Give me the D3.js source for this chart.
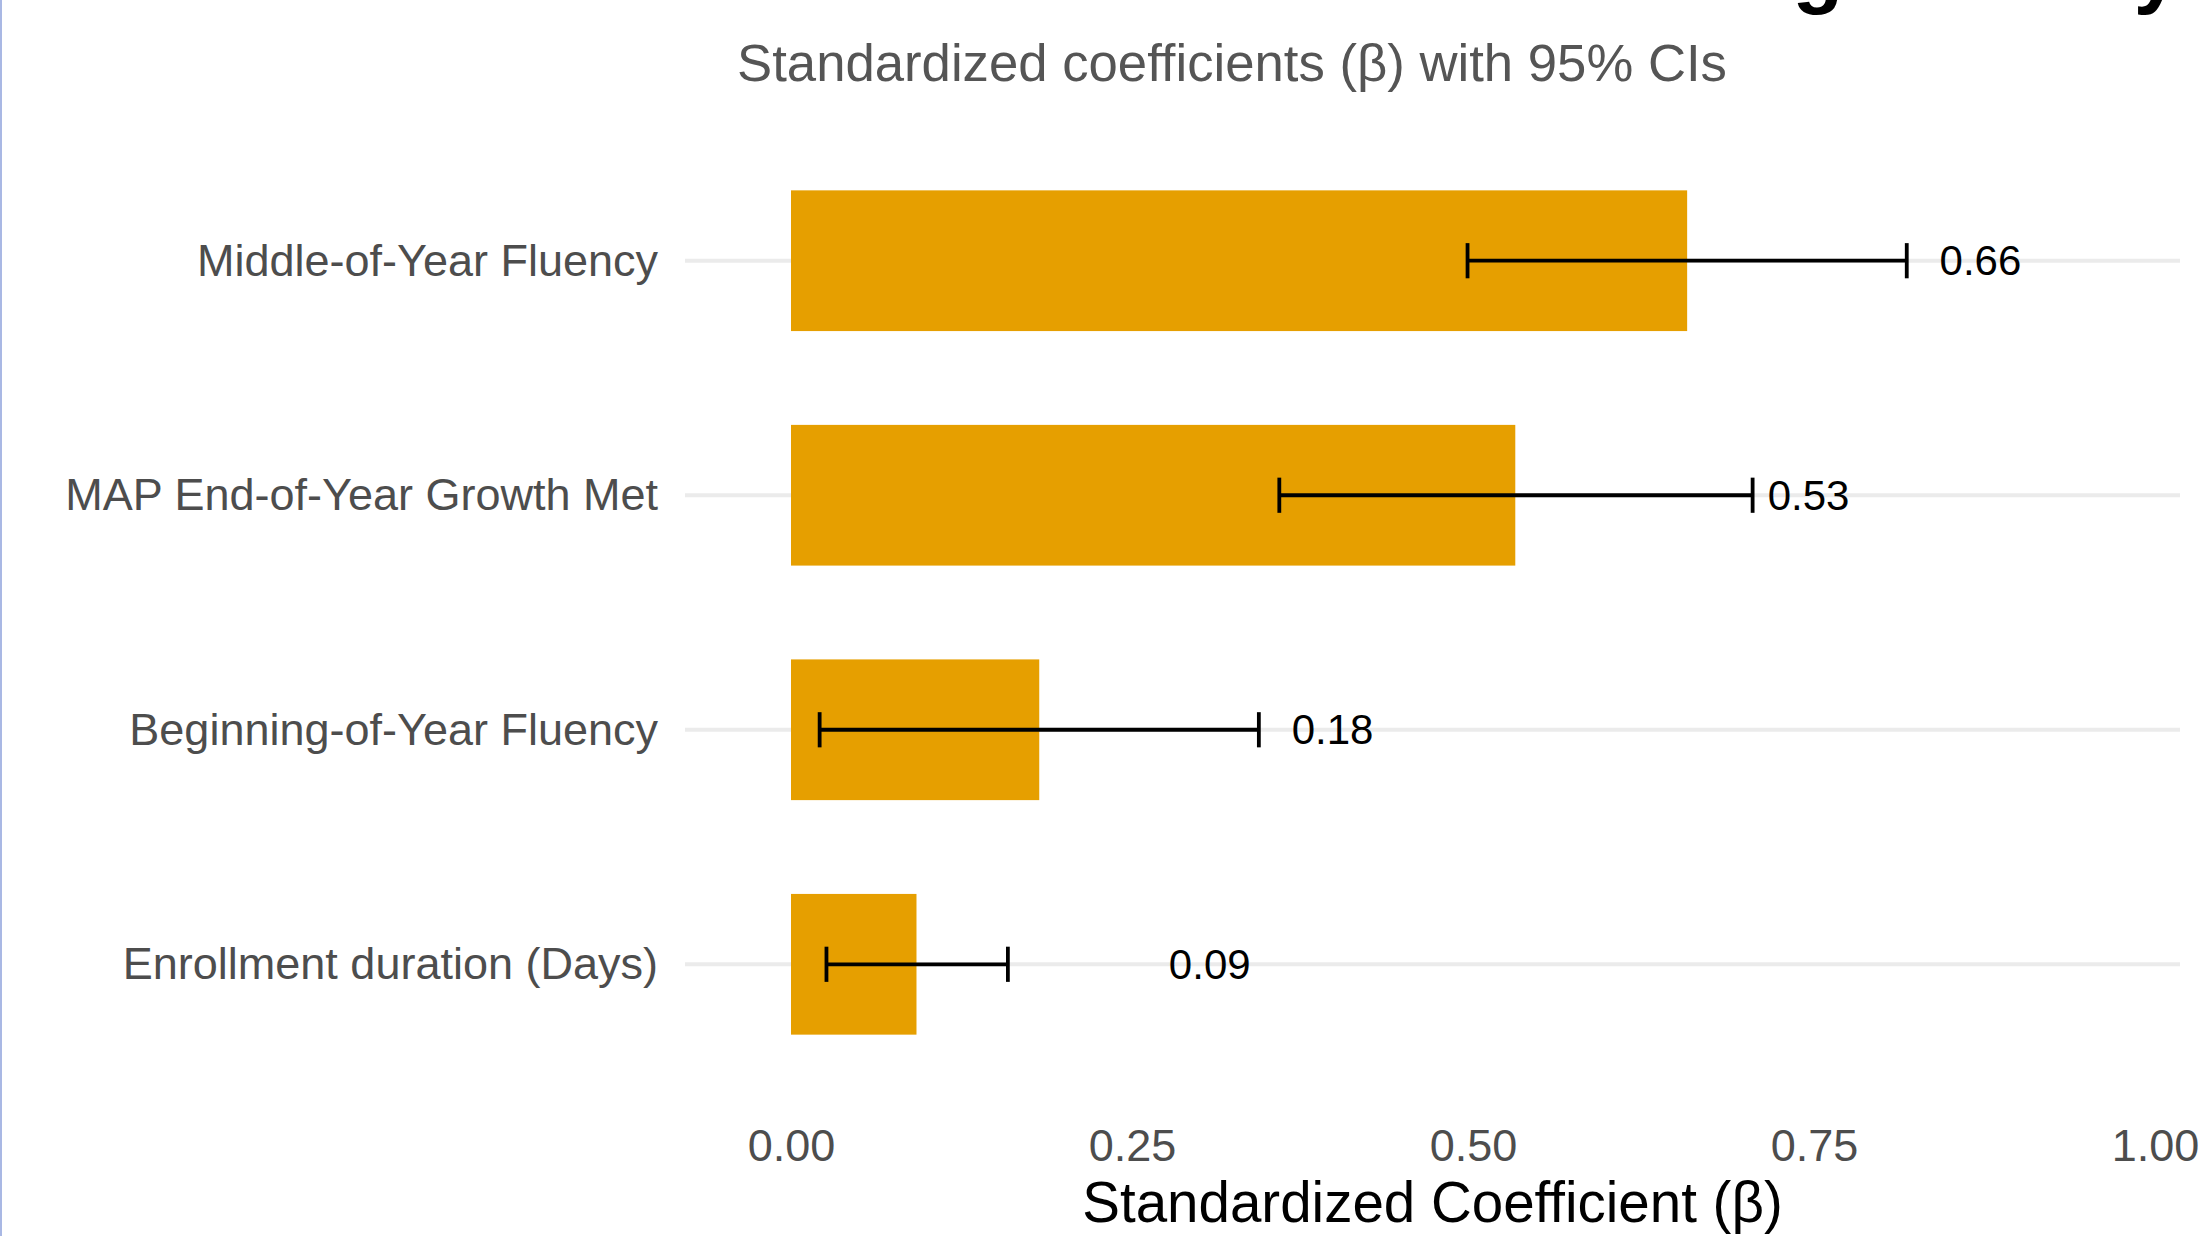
<!DOCTYPE html>
<html>
<head>
<meta charset="utf-8">
<script src="https://cdn.jsdelivr.net/npm/d3@7"></script>
<style>
  html, body { margin: 0; padding: 0; background: #fff; }
  svg { display: block; font-family: "Liberation Sans", Arial, Helvetica, sans-serif; }
</style>
</head>
<body>
<svg id="grafico"></svg>
<script>
// dados
var categorias = ["Middle-of-Year Fluency", "MAP End-of-Year Growth Met", "Beginning-of-Year Fluency", "Enrollment duration (Days)"];
var estimativas = [0.657, 0.531, 0.182, 0.092];
var icInferior = [0.496, 0.358, 0.021, 0.026];
var icSuperior = [0.818, 0.705, 0.343, 0.159];
var rotulosValor = ["0.66", "0.53", "0.18", "0.09"];
var ticksX = [0, 0.25, 0.50, 0.75, 1.00];

var titulo = "Predictors of End-of-Year Reading Fluency";
var subtitulo = "Standardized coefficients (\u03b2) with 95% CIs";
var tituloEixoX = "Standardized Coefficient (\u03b2)";

function desenhaGrafico(){
    var widthSvg = 2200, heightSvg = 1236;
    // area do painel
    var painel = {left: 685, right: 2180, top: 120, bottom: 1105};

    var svg = d3.select("#grafico")
        .attr("width", widthSvg)
        .attr("height", heightSvg);

    svg.append("rect").attr("x", 0).attr("y", 0)
        .attr("width", widthSvg).attr("height", heightSvg).attr("fill", "#fff");
    // borda azul da captura
    svg.append("rect").attr("x", 0).attr("y", 0)
        .attr("width", 2).attr("height", heightSvg).attr("fill", "#a9b8e4");

    var x = d3.scaleLinear().domain([0, 1]).range([791, 2155]);
    var y = d3.scalePoint().domain(categorias)
        .range([painel.top, painel.bottom]).padding(0.6);
    var passo = y.step();

    var dados = categorias.map(function(c, i){
        return {cat: c, est: estimativas[i], lo: icInferior[i], hi: icSuperior[i], rot: rotulosValor[i]};
    });

    // linhas de grade horizontais
    svg.append("g").selectAll("line")
        .data(dados).enter().append("line")
        .attr("x1", painel.left).attr("x2", painel.right)
        .attr("y1", function(d){ return y(d.cat); })
        .attr("y2", function(d){ return y(d.cat); })
        .attr("stroke", "#ebebeb").attr("stroke-width", 4);

    // barras
    svg.append("g").selectAll("rect")
        .data(dados).enter().append("rect")
        .attr("x", x(0))
        .attr("y", function(d){ return y(d.cat) - passo * 0.3; })
        .attr("width", function(d){ return x(d.est) - x(0); })
        .attr("height", passo * 0.6)
        .attr("fill", "#E69F00");

    // barras de erro
    var meiaAltCap = passo * 0.075;
    var erros = svg.append("g").attr("stroke", "#000").attr("stroke-width", 3.8).attr("fill", "none");
    dados.forEach(function(d){
        var cy = y(d.cat);
        erros.append("line").attr("x1", x(d.lo)).attr("x2", x(d.hi)).attr("y1", cy).attr("y2", cy);
        erros.append("line").attr("x1", x(d.lo)).attr("x2", x(d.lo)).attr("y1", cy - meiaAltCap).attr("y2", cy + meiaAltCap);
        erros.append("line").attr("x1", x(d.hi)).attr("x2", x(d.hi)).attr("y1", cy - meiaAltCap).attr("y2", cy + meiaAltCap);
    });

    // rotulos dos valores (deslocados da estimativa)
    svg.append("g").selectAll("text")
        .data(dados).enter().append("text")
        .attr("x", function(d){ return x(d.est + 0.215); })
        .attr("y", function(d){ return y(d.cat); })
        .attr("dy", "0.35em")
        .attr("text-anchor", "middle")
        .attr("font-size", 42)
        .attr("fill", "#000")
        .text(function(d){ return d.rot; });

    // eixo X
    var eixoX = svg.append("g")
        .attr("transform", "translate(0," + painel.bottom + ")")
        .call(d3.axisBottom(x).tickValues(ticksX).tickFormat(d3.format(".2f")).tickSize(0).tickPadding(24));
    eixoX.select(".domain").remove();
    eixoX.selectAll("text").attr("font-size", 45).attr("fill", "#4d4d4d")
        .attr("font-family", "Liberation Sans, Arial, sans-serif");

    // eixo Y
    var eixoY = svg.append("g")
        .attr("transform", "translate(" + painel.left + ",0)")
        .call(d3.axisLeft(y).tickSize(0).tickPadding(27));
    eixoY.select(".domain").remove();
    eixoY.selectAll("text").attr("font-size", 45).attr("fill", "#4d4d4d")
        .attr("font-family", "Liberation Sans, Arial, sans-serif");

    // titulo do eixo X
    svg.append("text")
        .attr("x", (painel.left + painel.right) / 2)
        .attr("y", 1222)
        .attr("text-anchor", "middle")
        .attr("font-size", 56.5)
        .attr("fill", "#000")
        .text(tituloEixoX);

    // titulo (cortado no topo, como na figura) e subtitulo
    svg.append("text")
        .attr("x", 492)
        .attr("y", -2)
        .attr("font-size", 83)
        .attr("font-weight", "bold")
        .attr("fill", "#000")
        .text(titulo);

    svg.append("text")
        .attr("x", 1232)
        .attr("y", 81)
        .attr("text-anchor", "middle")
        .attr("font-size", 52.7)
        .attr("fill", "#555555")
        .text(subtitulo);
}

desenhaGrafico();
</script>
</body>
</html>
